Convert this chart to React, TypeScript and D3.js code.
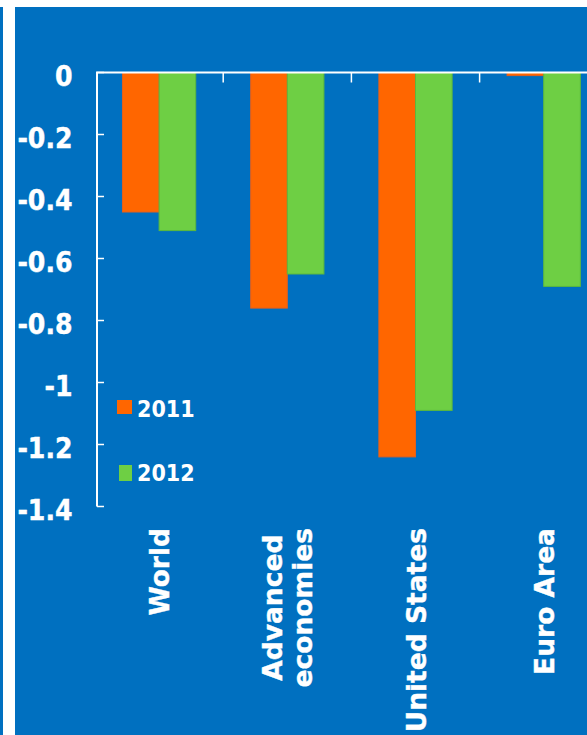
import React from "react";
import * as d3 from "d3";

// Change in growth forecast, percentage points
const categories: string[][] = [["World"], ["Advanced", "economies"], ["United States"], ["Euro Area"]];
const series = ["2011", "2012"];
const values2011 = [-0.45, -0.76, -1.24, -0.01];
const values2012 = [-0.51, -0.65, -1.09, -0.69];
const yTicks = [0, -0.2, -0.4, -0.6, -0.8, -1, -1.2, -1.4];

const W = 587;
const H = 735;
const BLUE = "#0070C0";
const ORANGE = "#FF6600";
const GREEN = "#6ECF44";

const catFont = "bold 26.5px 'DejaVu Sans'";
const tickFont = "bold 28px 'DejaVu Sans Condensed', 'DejaVu Sans'";
const legendFont = "bold 23px 'DejaVu Sans Condensed', 'DejaVu Sans'";

function measure(text: string, font: string): number {
  const c = document.createElement("canvas").getContext("2d");
  if (!c) return text.length * 15;
  c.font = font;
  return c.measureText(text).width;
}

export default function App() {
  const y = d3.scaleLinear().domain([0, -1.4]).range([72.5, 506.5]);
  const keys = categories.map((c) => c.join(" "));
  const x0 = d3.scaleBand<string>().domain(keys).range([95, 95 + 4 * 128.2]).paddingInner(0).paddingOuter(0);
  const x1 = d3.scaleBand<string>().domain(series).range([0, x0.bandwidth()]).paddingInner(0).paddingOuter(0.75);
  const seriesValues = [values2011, values2012];
  const colors = [ORANGE, GREEN];
  const strokes = ["#E2601E", "#5CB83C"];
  const axisX = 97;
  const labelTop = 528;
  const lineH = 30;

  return (
    <div style={{ position: "absolute", left: 0, top: 0 }}>
      <svg width={W} height={H} style={{ display: "block" }}>
        <rect x={0} y={0} width={W} height={H} fill="#ffffff" />
        <rect x={0} y={7} width={3} height={H - 7} fill={BLUE} />
        <rect x={15} y={7} width={W - 15} height={H - 7} fill={BLUE} />

        {/* category boundary ticks under the zero line */}
        {keys.slice(1).map((k) => (
          <line key={k} x1={x0(k)!} x2={x0(k)!} y1={y(0)} y2={y(0) + 10} stroke="#fff" strokeWidth={1.5} />
        ))}

        {/* bars */}
        {keys.map((k, ci) =>
          series.map((s, si) => {
            const v = seriesValues[si][ci];
            const bx = x0(k)! + x1(s)!;
            return (
              <rect
                key={k + s}
                x={bx}
                y={y(0)}
                width={x1.bandwidth()}
                height={y(v) - y(0)}
                fill={colors[si]}
                stroke={strokes[si]}
                strokeWidth={1}
              />
            );
          })
        )}

        {/* zero line and value axis */}
        <line x1={axisX - 1} x2={W} y1={y(0)} y2={y(0)} stroke="#fff" strokeWidth={2} />
        <line x1={axisX} x2={axisX} y1={y(0)} y2={y(-1.4)} stroke="#fff" strokeWidth={2} />
        {yTicks.map((t) => (
          <g key={t}>
            <line x1={axisX} x2={axisX + 7} y1={y(t)} y2={y(t)} stroke="#fff" strokeWidth={1.5} />
            <text
              x={72.5}
              y={y(t) + 13}
              textAnchor="end"
              fill="#fff"
              stroke="#fff"
              strokeWidth={0.4}
              style={{ font: tickFont, fontStretch: "condensed" }}
            >
              {String(t)}
            </text>
          </g>
        ))}

        {/* category labels, rotated */}
        {categories.map((lines, ci) => {
          const cx = x0(keys[ci])! + x0.bandwidth() / 2;
          const longest = Math.max(...lines.map((l) => measure(l, catFont)));
          const midY = labelTop + longest / 2;
          return lines.map((l, li) => {
            const bx = cx + (li - (lines.length - 1) / 2) * lineH;
            return (
              <text
                key={l}
                transform={`translate(${bx + 10},${midY}) rotate(-90)`}
                textAnchor="middle"
                fill="#fff"
                stroke="#fff"
                strokeWidth={0.4}
                style={{ font: catFont }}
              >
                {l}
              </text>
            );
          });
        })}

        {/* legend */}
        <rect x={117} y={400} width={15} height={14} fill={ORANGE} />
        <text x={137} y={416.5} fill="#fff" style={{ font: legendFont, fontStretch: "condensed" }}>
          {series[0]}
        </text>
        <rect x={119} y={465} width={13} height={16} fill={GREEN} />
        <text x={137} y={480.5} fill="#fff" style={{ font: legendFont, fontStretch: "condensed" }}>
          {series[1]}
        </text>
      </svg>
    </div>
  );
}
